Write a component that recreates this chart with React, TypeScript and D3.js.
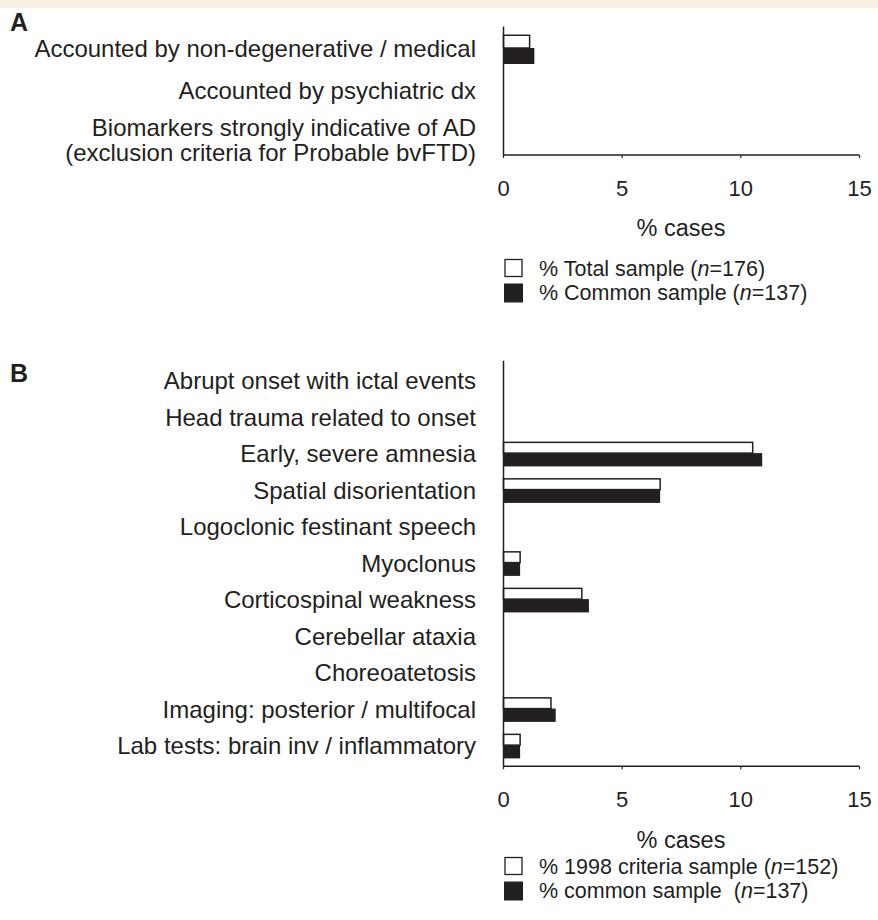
import * as d3 from "d3";

// panel A
const categoriesA = [
  ["Accounted by non-degenerative / medical"],
  ["Accounted by psychiatric dx"],
  ["Biomarkers strongly indicative of AD", "(exclusion criteria for Probable bvFTD)"],
];
const totalSampleA = [1.1, 0, 0];
const commonSampleA = [1.3, 0, 0];
const legendA = [
  { pre: "% Total sample (", n: "n", post: "=176)" },
  { pre: "% Common sample (", n: "n", post: "=137)" },
];

// panel B
const categoriesB = [
  "Abrupt onset with ictal events",
  "Head trauma related to onset",
  "Early, severe amnesia",
  "Spatial disorientation",
  "Logoclonic festinant speech",
  "Myoclonus",
  "Corticospinal weakness",
  "Cerebellar ataxia",
  "Choreoatetosis",
  "Imaging: posterior / multifocal",
  "Lab tests: brain inv / inflammatory",
];
const criteria1998B = [0, 0, 10.5, 6.6, 0, 0.7, 3.3, 0, 0, 2.0, 0.7];
const commonSampleB = [0, 0, 10.9, 6.6, 0, 0.7, 3.6, 0, 0, 2.2, 0.7];
const legendB = [
  { pre: "% 1998 criteria sample (", n: "n", post: "=152)" },
  { pre: "% common sample  (", n: "n", post: "=137)" },
];

const xTicks = [0, 5, 10, 15];

const INK = "#231f20";
const FONT = "'Liberation Sans', Arial, Helvetica, sans-serif";

const x = d3.scaleLinear().domain([0, 15]).range([503.5, 859.5]);

function Panel({
  letter,
  letterY,
  labels,
  white,
  black,
  yRange,
  whiteH,
  blackH,
  legend,
  legendY,
  axisLabelY,
}: {
  letter: string;
  letterY: number;
  labels: string[][];
  white: number[];
  black: number[];
  yRange: [number, number];
  whiteH: number;
  blackH: number;
  legend: { pre: string; n: string; post: string }[];
  legendY: number[];
  axisLabelY: number;
}) {
  const y = d3
    .scaleBand<number>()
    .domain(labels.map((_, i) => i))
    .range(yRange);
  const axisY = yRange[1] + 2;
  const c = (i: number) => (y(i) ?? 0) + y.bandwidth() / 2;
  const half = (whiteH + blackH) / 2;

  return (
    <g>
      <text x={10} y={letterY} fontSize={25} fontWeight="bold" fill={INK}>
        {letter}
      </text>
      {labels.map((lines, i) =>
        lines.map((line, j) => (
          <text
            key={`${i}-${j}`}
            x={476}
            y={c(i) + 8 - (lines.length - 1) * 4 + j * 25}
            textAnchor="end"
            fontSize={24}
            fill={INK}
          >
            {line}
          </text>
        ))
      )}
      {white.map((v, i) =>
        v > 0 ? (
          <rect
            key={"w" + i}
            x={x(0)}
            y={c(i) - half + 0.75}
            width={x(v) - x(0)}
            height={whiteH - 0.75}
            fill="#fff"
            stroke={INK}
            strokeWidth={1.5}
          />
        ) : null
      )}
      {black.map((v, i) =>
        v > 0 ? (
          <rect
            key={"b" + i}
            x={x(0)}
            y={c(i) - half + whiteH}
            width={x(v) - x(0)}
            height={blackH}
            fill={INK}
          />
        ) : null
      )}
      <line x1={x(0)} x2={x(0)} y1={yRange[0] - 2} y2={axisY} stroke={INK} strokeWidth={1.5} />
      <line x1={x(0)} x2={x(15)} y1={axisY} y2={axisY} stroke={INK} strokeWidth={1.5} />
      {xTicks.map((t) => (
        <g key={t}>
          <line x1={x(t)} x2={x(t)} y1={axisY} y2={axisY + 3} stroke={INK} strokeWidth={1.2} />
          <text x={x(t)} y={axisY + 41} textAnchor="middle" fontSize={22} fill={INK}>
            {t}
          </text>
        </g>
      ))}
      <text x={681} y={axisLabelY} textAnchor="middle" fontSize={23.5} fill={INK}>
        % cases
      </text>
      {legend.map((l, i) => (
        <g key={l.pre}>
          <rect
            x={i === 0 ? 505 : 504}
            y={legendY[i] - 8.5}
            width={i === 0 ? 17 : 19}
            height={i === 0 ? 17 : 19}
            fill={i === 0 ? "#fff" : INK}
            stroke={INK}
            strokeWidth={i === 0 ? 1.3 : 0}
          />
          <text x={539} y={legendY[i] + 7.5} fontSize={21.5} fill={INK} style={{ whiteSpace: "pre" }}>
            {l.pre}
            <tspan fontStyle="italic">{l.n}</tspan>
            {l.post}
          </text>
        </g>
      ))}
    </g>
  );
}

export default function App() {
  return (
    <div style={{ position: "absolute", left: 0, top: 0 }}>
      <svg width={878} height={920} style={{ display: "block", fontFamily: FONT, background: "#fff" }}>
        <rect x={0} y={0} width={878} height={8} fill="#f5f0e1" />
        <Panel
          letter="A"
          letterY={31}
          labels={categoriesA}
          white={totalSampleA}
          black={commonSampleA}
          yRange={[28.5, 153]}
          whiteH={13.5}
          blackH={16}
          legend={legendA}
          legendY={[268, 292]}
          axisLabelY={236}
        />
        <Panel
          letter="B"
          letterY={382}
          labels={categoriesB.map((s) => [s])}
          white={criteria1998B}
          black={commonSampleB}
          yRange={[362.75, 764.25]}
          whiteH={11.5}
          blackH={13.3}
          legend={legendB}
          legendY={[866, 890]}
          axisLabelY={848}
        />
      </svg>
    </div>
  );
}
